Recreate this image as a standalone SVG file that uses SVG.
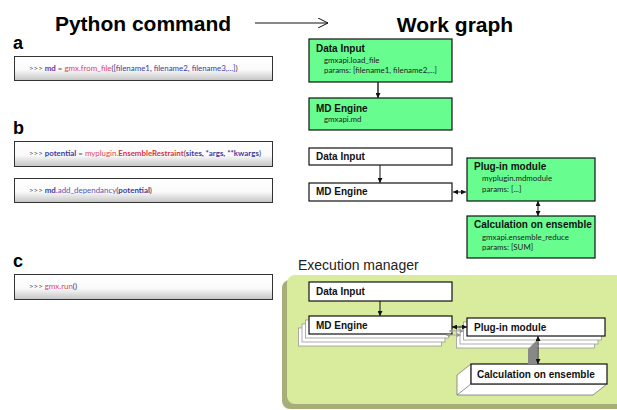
<svg xmlns="http://www.w3.org/2000/svg" width="617" height="410" viewBox="0 0 617 410">
<style>
.title{font-family:"Liberation Sans",Arial,sans-serif;font-weight:bold;font-size:21px;fill:#000}
.lbl{font-family:"Liberation Sans",Arial,sans-serif;font-weight:bold;font-size:18px;fill:#000}
.code{fill:url(#cg);stroke:#333;stroke-width:1}
.ct{font-family:Lato,"Open Sans",sans-serif;font-size:7.9px;fill:#555}
.p{fill:#555}.pur{fill:#6b35a0;font-weight:bold}.red{fill:#e0455a}.redb{fill:#d8303f;font-weight:bold}.blu{fill:#3a3a9c}.blub{fill:#3a3a9c;font-weight:bold}.dk{fill:#333}.bl2{fill:#5555b5}
.gn{fill:#68fd8f;stroke:#111;stroke-width:1.2}
.wn{fill:#fff;stroke:#111;stroke-width:1.2}
.st{fill:#fff;stroke:#999;stroke-width:0.8}
.h{font-family:"Liberation Sans",Arial,sans-serif;font-weight:bold;font-size:10px;fill:#111}
.s{font-family:Lato,"Open Sans",sans-serif;font-size:7.9px;fill:#222}
.ar{stroke:#111;stroke-width:1;fill:none}
</style>
<defs>
<linearGradient id="cg" x1="0" y1="0" x2="0" y2="1">
<stop offset="0" stop-color="#fff"/>
<stop offset="0.55" stop-color="#fafafa"/>
<stop offset="1" stop-color="#c4c4c4"/>
</linearGradient>
<marker id="ah" viewBox="0 0 6 6" refX="6" refY="3" markerWidth="5" markerHeight="5" markerUnits="userSpaceOnUse" orient="auto-start-reverse">
<path d="M0,0 L6,3 L0,6 z" fill="#111"/>
</marker>
<marker id="ahg" viewBox="0 0 6 6" refX="6" refY="3" markerWidth="4" markerHeight="4" markerUnits="userSpaceOnUse" orient="auto-start-reverse">
<path d="M0,0 L6,3 L0,6 z" fill="#999"/>
</marker>
<marker id="chev" viewBox="0 0 10 10" refX="10" refY="5" markerWidth="10" markerHeight="10" markerUnits="userSpaceOnUse" orient="auto">
<path d="M0,0 L10,5 L0,10" fill="none" stroke="#111" stroke-width="1"/>
</marker>
</defs>
<rect width="617" height="410" fill="#fff"/>

<g id="headings">
<text class="title" x="143" y="31" text-anchor="middle">Python command</text>
<text class="title" x="455" y="32" text-anchor="middle">Work graph</text>
<text class="lbl" x="13" y="49">a</text>
<text class="lbl" x="13" y="134">b</text>
<text class="lbl" x="13" y="267">c</text>
</g>

<g id="code-a">
<rect class="code" x="14.5" y="56.5" width="258" height="24"/>
<text class="ct" x="29" y="71"><tspan class="p">&gt;&gt;&gt; </tspan><tspan class="pur">md</tspan><tspan class="p"> = </tspan><tspan class="red">gmx.from_file</tspan><tspan class="dk">(</tspan><tspan class="blu">[filename1, filename2, filename3,...]</tspan><tspan class="dk">)</tspan></text>
</g>
<g id="code-b1">
<rect class="code" x="14.5" y="141.5" width="258" height="25"/>
<text class="ct" x="29" y="156"><tspan class="p">&gt;&gt;&gt; </tspan><tspan class="blub">potential</tspan><tspan class="p"> = </tspan><tspan class="red">myplugin.</tspan><tspan class="redb">EnsembleRestraint</tspan><tspan class="dk">(</tspan><tspan class="blub">sites, *args, **kwargs</tspan><tspan class="dk">)</tspan></text>
</g>
<g id="code-b2">
<rect class="code" x="14.5" y="178.5" width="258" height="24"/>
<text class="ct" x="29" y="193"><tspan class="p">&gt;&gt;&gt; </tspan><tspan class="blub">md</tspan><tspan class="bl2">.add_dependancy</tspan><tspan class="dk">(</tspan><tspan class="blub">potential</tspan><tspan class="dk">)</tspan></text>
</g>
<g id="code-c">
<rect class="code" x="14.5" y="274.5" width="258" height="25"/>
<text class="ct" x="29" y="289"><tspan class="p">&gt;&gt;&gt; </tspan><tspan class="red">gmx.run</tspan><tspan class="dk">()</tspan></text>
</g>

<g id="a-data-input">
<rect class="gn" x="309" y="39" width="143" height="43"/>
<text class="h" x="316" y="52">Data Input</text>
<text class="s" x="324" y="63">gmxapi.load_file</text>
<text class="s" x="324" y="73">params: [filename1, filename2,...]</text>
</g>
<g id="a-md-engine">
<rect class="gn" x="309" y="98" width="143" height="32"/>
<text class="h" x="316" y="112">MD Engine</text>
<text class="s" x="324" y="122">gmxapi.md</text>
</g>

<g id="b-data-input">
<rect class="wn" x="309" y="148" width="143" height="17"/>
<text class="h" x="316" y="160">Data Input</text>
</g>
<g id="b-md-engine">
<rect class="wn" x="309" y="183" width="143" height="18"/>
<text class="h" x="316" y="195">MD Engine</text>
</g>
<g id="b-plugin">
<rect class="gn" x="467" y="158" width="128" height="43"/>
<text class="h" x="474" y="170">Plug-in module</text>
<text class="s" x="482" y="181">myplugin.mdmodule</text>
<text class="s" x="482" y="192">params: [...]</text>
</g>
<g id="b-calc">
<rect class="gn" x="467" y="216" width="128" height="42"/>
<text class="h" x="474" y="228">Calculation on ensemble</text>
<text class="s" x="482" y="240">gmxapi.ensemble_reduce</text>
<text class="s" x="482" y="250">params: [SUM]</text>
</g>

<g id="exec-manager">
<text x="298" y="270" font-family="Liberation Sans,Arial,sans-serif" font-size="14" fill="#222">Execution manager</text>
<rect x="282" y="280" width="345" height="129" rx="8" fill="#a7ae78"/>
<rect x="287" y="275" width="340" height="129" rx="8" fill="#d9ec9e"/>
</g>

<g id="c-data-input">
<rect class="wn" x="309" y="282" width="143" height="19"/>
<text class="h" x="316" y="295">Data Input</text>
</g>
<g id="c-md-engine">
<rect class="st" x="298.5" y="328" width="143" height="18"/>
<rect class="st" x="302" y="324" width="143" height="18"/>
<rect class="st" x="305.5" y="320" width="143" height="18"/>
<rect class="wn" x="309" y="316" width="143" height="18"/>
<text class="h" x="316" y="329">MD Engine</text>
</g>
<g id="c-plugin">
<rect class="st" x="456.5" y="330" width="138" height="18"/>
<rect class="st" x="460" y="326" width="138" height="18"/>
<rect class="st" x="463.5" y="322" width="138" height="18"/>
<rect class="wn" x="467" y="318" width="138" height="18"/>
<text class="h" x="474" y="331">Plug-in module</text>
</g>
<g id="c-calc">
<path d="M471,364 L457,375 L457,395 L593,395 L607,384 L471,384 Z" fill="#fff" stroke="#777" stroke-width="0.8"/>
<path d="M471,384 L457,395" stroke="#777" stroke-width="0.8"/>
<rect class="wn" x="471" y="364" width="136" height="20"/>
<text class="h" x="477" y="378">Calculation on ensemble</text>
</g>

<g id="connectors">
<line x1="255" y1="23" x2="328" y2="23" stroke="#111" stroke-width="1" marker-end="url(#chev)"/>
<line x1="378" y1="82" x2="378" y2="98" stroke="#333" stroke-width="1.6" marker-end="url(#ah)"/>
<line class="ar" x1="380" y1="165" x2="380" y2="183" marker-end="url(#ah)"/>
<line class="ar" x1="453" y1="192" x2="466" y2="192" marker-start="url(#ah)" marker-end="url(#ah)"/>
<line class="ar" x1="538" y1="201" x2="538" y2="216" marker-start="url(#ah)" marker-end="url(#ah)"/>
<line class="ar" x1="380" y1="301" x2="380" y2="316" marker-end="url(#ah)"/>
<line x1="446" y1="335" x2="461" y2="335" stroke="#999" stroke-width="0.8" marker-start="url(#ahg)" marker-end="url(#ahg)"/>
<line x1="449" y1="331" x2="464" y2="331" stroke="#999" stroke-width="0.8" marker-start="url(#ahg)" marker-end="url(#ahg)"/>
<line class="ar" x1="452" y1="327" x2="467" y2="327" marker-start="url(#ah)" marker-end="url(#ah)"/>
<path d="M528,349 L537,340 L537,364 L528,364 Z" fill="#888"/>
<line class="ar" x1="538" y1="336" x2="538" y2="364" marker-start="url(#ah)" marker-end="url(#ah)"/>
</g>
</svg>
